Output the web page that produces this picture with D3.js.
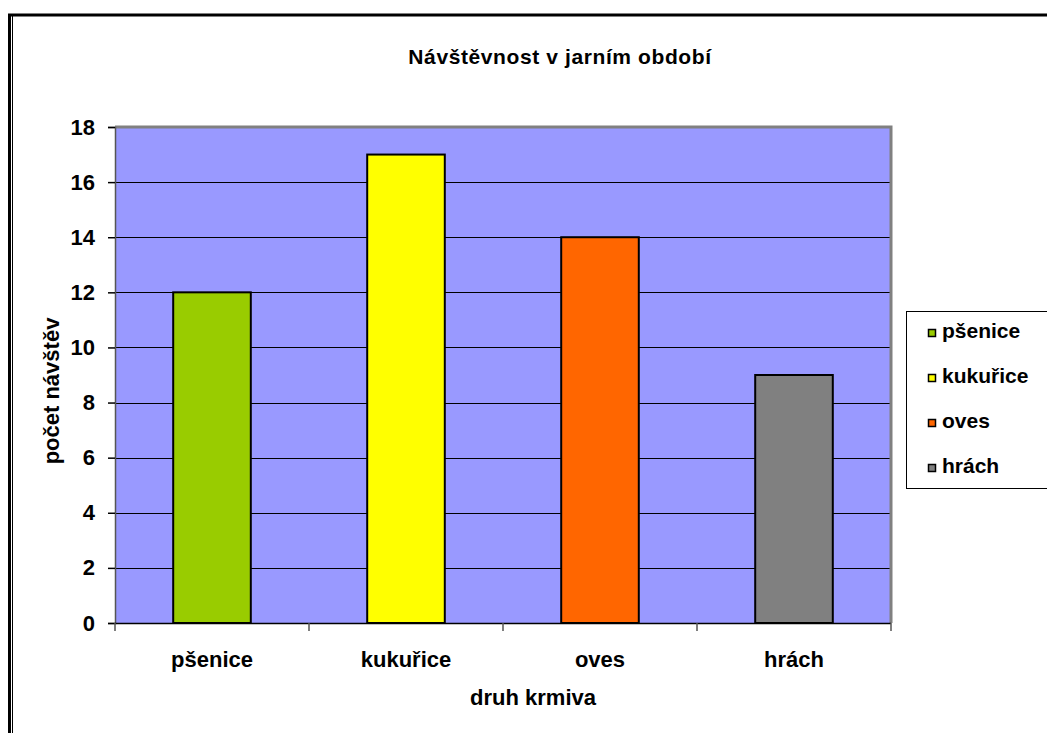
<!DOCTYPE html>
<html>
<head>
<meta charset="utf-8">
<script src="https://cdn.jsdelivr.net/npm/d3@7"></script>
<style>
  html, body { margin: 0; padding: 0; background: #fff; }
  svg { display: block; font-family: "Liberation Sans", Arial, sans-serif; }
</style>
</head>
<body>
<svg id="chart" width="1047" height="733"></svg>
<script>
// Data
const categories = ["pšenice", "kukuřice", "oves", "hrách"];
const visits = [12, 17, 14, 9];
const barColors = ["#99CC00", "#FFFF00", "#FF6600", "#808080"];
const yTicks = [0, 2, 4, 6, 8, 10, 12, 14, 16, 18];

const svg = d3.select("#chart");

// Outer chart frame
svg.append("rect").attr("x", 9.5).attr("y", 15).attr("width", 1060).attr("height", 740)
  .attr("fill", "none").attr("stroke", "#000").attr("stroke-width", 3);
svg.append("line").attr("x1", 12.5).attr("x2", 12.5).attr("y1", 16).attr("y2", 733)
  .attr("stroke", "#000").attr("stroke-width", 1);

const plot = { left: 115, top: 127, right: 891, bottom: 623 };

const x = d3.scaleBand().domain(categories).range([plot.left, plot.right]).paddingInner(0).paddingOuter(0);
const y = d3.scaleLinear().domain([0, 18]).range([plot.bottom, plot.top]);

// Plot background
svg.append("rect").attr("x", plot.left).attr("y", plot.top)
  .attr("width", plot.right - plot.left).attr("height", plot.bottom - plot.top)
  .attr("fill", "#9999FF");

// Horizontal gridlines
svg.append("g").selectAll("line").data(yTicks.filter(d => d > 0 && d < 18)).join("line")
  .attr("x1", plot.left).attr("x2", plot.right)
  .attr("y1", d => Math.round(y(d)) + 0.5).attr("y2", d => Math.round(y(d)) + 0.5)
  .attr("stroke", "#000").attr("stroke-width", 1);

// Plot border (top and right in gray)
svg.append("path")
  .attr("d", `M${plot.left},${plot.top} H${plot.right} V${plot.bottom}`)
  .attr("fill", "none").attr("stroke", "#808080").attr("stroke-width", 3);

// Bars
const barW = x.bandwidth() * 0.4;
svg.append("g").selectAll("rect").data(categories).join("rect")
  .attr("x", d => x(d) + (x.bandwidth() - barW) / 2)
  .attr("y", (d, i) => y(visits[i]))
  .attr("width", barW)
  .attr("height", (d, i) => y(0) - y(visits[i]))
  .attr("fill", (d, i) => barColors[i])
  .attr("stroke", "#000").attr("stroke-width", 2);

// Y axis
const yAxis = svg.append("g").attr("transform", `translate(${plot.left},0)`)
  .call(d3.axisLeft(y).tickValues(yTicks).tickSize(7).tickPadding(13).tickFormat(d3.format("d")));
yAxis.select(".domain").attr("stroke", "#555").attr("stroke-width", 1.5);
yAxis.selectAll(".tick line").attr("stroke", "#000").attr("stroke-width", 1.5);
yAxis.selectAll("text").attr("font-size", 22).attr("font-weight", "bold")
  .attr("fill", "#000").attr("font-family", "Liberation Sans, Arial, sans-serif");

// X axis line and category boundary ticks
svg.append("line").attr("x1", plot.left).attr("x2", plot.right)
  .attr("y1", plot.bottom + 0.5).attr("y2", plot.bottom + 0.5)
  .attr("stroke", "#000").attr("stroke-width", 1.5);
const bounds = categories.map(c => x(c)).concat([plot.right]);
svg.append("g").selectAll("line").data(bounds).join("line")
  .attr("x1", d => d).attr("x2", d => d)
  .attr("y1", plot.bottom).attr("y2", plot.bottom + 8)
  .attr("stroke", "#555").attr("stroke-width", 1.5);
svg.append("g").selectAll("text").data(categories).join("text")
  .attr("x", d => x(d) + x.bandwidth() / 2).attr("y", 667)
  .attr("text-anchor", "middle").attr("font-size", 22).attr("font-weight", "bold")
  .text(d => d);

// Titles
svg.append("text").attr("x", 560).attr("y", 64).attr("text-anchor", "middle")
  .attr("font-size", 21).attr("font-weight", "bold").attr("letter-spacing", 0.6)
  .text("Návštěvnost v jarním období");
svg.append("text").attr("x", 533).attr("y", 705).attr("text-anchor", "middle")
  .attr("font-size", 22).attr("font-weight", "bold").text("druh krmiva");
svg.append("text").attr("transform", "translate(59,391) rotate(-90)").attr("text-anchor", "middle")
  .attr("font-size", 22).attr("font-weight", "bold").text("počet návštěv");

// Legend
const legend = svg.append("g");
legend.append("rect").attr("x", 906.5).attr("y", 311.5).attr("width", 150).attr("height", 177)
  .attr("fill", "#fff").attr("stroke", "#000").attr("stroke-width", 1);
const items = legend.selectAll("g.item").data(categories).join("g").attr("class", "item")
  .attr("transform", (d, i) => `translate(928,${338 + i * 45})`);
items.append("rect").attr("x", 0.5).attr("y", -8.5).attr("width", 7).attr("height", 7)
  .attr("fill", (d, i) => barColors[i]).attr("stroke", "#000").attr("stroke-width", 1.5);
items.append("text").attr("x", 14).attr("y", 0).attr("font-size", 21).attr("font-weight", "bold")
  .text(d => d);
</script>
</body>
</html>
